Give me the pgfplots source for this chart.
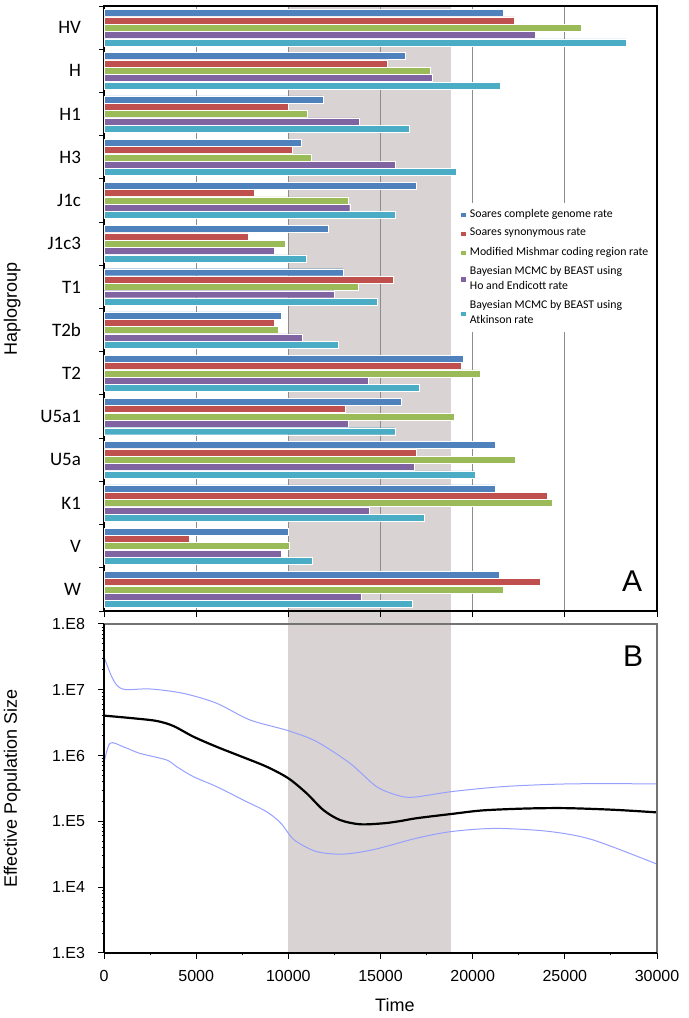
\documentclass[border=0pt]{standalone}
\usepackage{pgfplots}
\pgfplotsset{compat=1.18}
\usepackage{fontspec}
\setmainfont{Liberation Sans}
\newfontfamily\calibri{Carlito}

\definecolor{sblue}{RGB}{79,129,189}
\definecolor{sred}{RGB}{192,80,77}
\definecolor{sgreen}{RGB}{155,187,89}
\definecolor{spurple}{RGB}{128,100,162}
\definecolor{scyan}{RGB}{75,172,198}
\definecolor{band}{RGB}{217,211,211}
\definecolor{ci}{RGB}{150,160,255}

\begin{document}
\begin{tikzpicture}
\path[use as bounding box] (-52pt,-32.5pt) rectangle (292.5pt,476.5pt);

% panel B: skyline plot
\begin{axis}[
    at={(0pt,0pt)}, anchor=south west,
    scale only axis, width=276.5pt, height=164.5pt,
    xmin=0, xmax=30000,
    ymode=log, ymin=1e3, ymax=1e8,
    clip=false, axis on top,
    axis x line*=bottom, axis y line*=left,
    axis line style={-, black, line width=0.8pt},
    xtick={0,5000,...,30000}, scaled x ticks=false,
    xticklabels={0,5000,10000,15000,20000,25000,30000},
    minor x tick num=1,
    ytick={1e3,1e4,1e5,1e6,1e7,1e8},
    yticklabels={1.E3,1.E4,1.E5,1.E6,1.E7,1.E8},
    minor ytick={2e3,3e3,4e3,5e3,6e3,7e3,8e3,9e3,2e4,3e4,4e4,5e4,6e4,7e4,8e4,9e4,
      2e5,3e5,4e5,5e5,6e5,7e5,8e5,9e5,2e6,3e6,4e6,5e6,6e6,7e6,8e6,9e6,
      2e7,3e7,4e7,5e7,6e7,7e7,8e7,9e7},
    tick align=outside, major tick length=3pt, minor tick length=1.2pt,
    tick style={black, line width=0.5pt},
    ticklabel style={font=\fontsize{8}{9}\selectfont},
    yticklabel style={xshift=-3pt},
    xticklabel style={yshift=-2pt},
    xlabel={Time}, ylabel={Effective Population Size},
    label style={font=\fontsize{9}{10}\selectfont},
    xlabel style={at={(axis description cs:0.526,-0.158)}, anchor=center},
    ylabel style={at={(axis description cs:-0.166,0.5)}, anchor=center},
]
% shaded interval, reaching up through panel A
\addplot[fill=band, draw=none] coordinates {(10000,1e3) (18850,1e3) (18850,2.46e17) (10000,2.46e17)} -- cycle;

% upper bound
\addplot[ci, line width=0.5pt, smooth, no markers] coordinates {
(0,3.18e7) (506,1.41e7) (1049,1.02e7) (2495,1.03e7) (4304,8.83e6) (6112,6.24e6)
(7920,3.48e6) (10000,2.39e6) (11537,1.63e6) (13345,7.64e5) (14792,3.37e5)
(16057,2.43e5) (16900,2.35e5) (18881,2.84e5) (21738,3.39e5)
(25310,3.72e5) (30000,3.72e5)};
% lower bound
\addplot[ci, line width=0.5pt, smooth, no markers] coordinates {
(0,7.64e5) (325,1.54e6) (1049,1.36e6) (1953,1.08e6) (3400,8.57e5) (3942,6.78e5)
(4847,4.79e5) (6112,3.37e5) (7559,2.11e5) (8824,1.40e5) (9595,9.4e4)
(10310,5.26e4) (11500,3.5e4) (12929,3.18e4) (14595,3.71e4) (16976,5.57e4)
(18881,7.03e4) (21262,7.82e4) (24119,7.05e4) (26500,5.26e4) (30000,2.24e4)};
% median
\addplot[black, line width=1.1pt, smooth, no markers] coordinates {
(0,4.05e6) (1591,3.69e6) (2857,3.36e6) (3762,2.82e6) (4847,1.94e6) (6112,1.36e6)
(7378,9.86e5) (8824,6.78e5) (10000,4.52e5) (10994,2.67e5) (11898,1.49e5)
(12803,1.05e5) (13887,9.04e4) (15153,9.35e4) (16057,1.01e5) (16976,1.12e5)
(18881,1.30e5) (20548,1.47e5) (22929,1.57e5) (25071,1.59e5) (27690,1.50e5) (30000,1.37e5)};

\draw[black!55, line width=0.6pt] (rel axis cs:0,1) -- (rel axis cs:1,1) -- (rel axis cs:1,0);
\node[font=\fontsize{15}{15}\selectfont] at (rel axis cs:0.957,0.903) {B};
\end{axis}

% panel A: bar chart
\begin{axis}[
    at={(0pt,171pt)}, anchor=south west,
    scale only axis, width=276.5pt, height=302.5pt,
    xbar, bar width=3.5pt,
    xmin=0, xmax=30000, ymin=-0.5, ymax=13.5, y dir=reverse,
    xtick={0,5000,...,30000}, xticklabels={}, scaled x ticks=false,
    xmajorgrids, major x grid style={black!45, line width=0.6pt},
    ytick={0,...,13},
    yticklabels={HV,H,H1,H3,J1c,J1c3,T1,T2b,T2,U5a1,U5a,K1,V,W},
    minor ytick={-0.5,0.5,...,13.5},
    major y tick style={draw=none},
    xtick pos=bottom, ytick pos=left,
    tick align=outside, major tick length=3pt, minor tick length=2.5pt,
    tick style={black, line width=0.5pt},
    axis line style={black, line width=1pt},
    yticklabel style={font=\calibri\fontsize{9.5}{10}\selectfont, xshift=-5pt},
    ylabel={Haplogroup},
    ylabel style={font=\fontsize{9}{10}\selectfont, at={(axis description cs:-0.166,0.5)}, anchor=center},
    legend style={at={(0.64,0.675)}, anchor=north west, fill=white, draw=none,
        font=\calibri\fontsize{5.9}{7.5}\selectfont,
        cells={anchor=west, align=left}, row sep=0pt, inner sep=1pt},
    legend image code/.code={\fill[#1] (0pt,-1.3pt) rectangle (2.6pt,1.3pt);},
]
\addplot[fill=sblue, draw=white, line width=0.2pt, bar shift=7.34pt] coordinates {
(21640,0) (16330,1) (11880,2) (10690,3) (16950,4) (12140,5) (12980,6)
(9600,7) (19500,8) (16140,9) (21240,10) (21240,11) (9980,12) (21430,13)};
\addplot[fill=sred, draw=white, line width=0.2pt, bar shift=3.67pt] coordinates {
(22260,0) (15380,1) (9980,2) (10210,3) (8140,4) (7810,5) (15710,6)
(9260,7) (19360,8) (13100,9) (16950,10) (24050,11) (4640,12) (23640,13)};
\addplot[fill=sgreen, draw=white, line width=0.2pt, bar shift=0pt] coordinates {
(25900,0) (17710,1) (11050,2) (11260,3) (13240,4) (9830,5) (13790,6)
(9450,7) (20400,8) (19020,9) (22330,10) (24310,11) (10070,12) (21640,13)};
\addplot[fill=spurple, draw=white, line width=0.2pt, bar shift=-3.67pt] coordinates {
(23400,0) (17790,1) (13860,2) (15790,3) (13330,4) (9260,5) (12480,6)
(10760,7) (14330,8) (13240,9) (16810,10) (14400,11) (9600,12) (13930,13)};
\addplot[fill=scyan, draw=white, line width=0.2pt, bar shift=-7.34pt] coordinates {
(28310,0) (21500,1) (16550,2) (19100,3) (15790,4) (10980,5) (14810,6)
(12690,7) (17100,8) (15790,9) (20120,10) (17360,11) (11310,12) (16740,13)};
\legend{Soares complete genome rate, Soares synonymous rate,
  Modified Mishmar coding region rate,
  Bayesian MCMC by BEAST using\\Ho and Endicott rate,
  Bayesian MCMC by BEAST using\\Atkinson rate}
\node[font=\fontsize{15}{15}\selectfont] at (rel axis cs:0.955,0.05) {A};
\end{axis}
\end{tikzpicture}
\end{document}
